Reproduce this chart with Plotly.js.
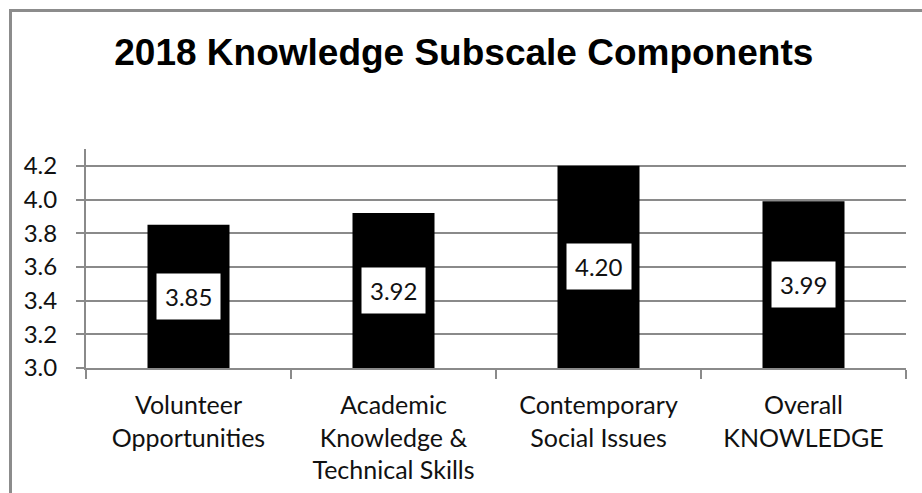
<!DOCTYPE html>
<html>
<head>
<meta charset="utf-8">
<script src="https://cdn.plot.ly/plotly-3.0.1.min.js"></script>
<style>
  html, body { margin: 0; padding: 0; background: #fff; }
  #wrap { position: relative; width: 922px; height: 493px; overflow: hidden; }
  #chart { width: 922px; height: 493px; }
  #frame { position: absolute; left: 9px; top: 9px; width: 960px; height: 520px;
           border-top: 3px solid #8c8c8c; border-left: 3px solid #8c8c8c; pointer-events: none; }
</style>
</head>
<body>
<div id="wrap">
  <div id="chart"></div>
  <div id="frame"></div>
</div>
<script>
const categories = [
  "Volunteer<br>Opportunities",
  "Academic<br>Knowledge &amp;<br>Technical Skills",
  "Contemporary<br>Social Issues",
  "Overall<br>KNOWLEDGE"
];
const values = [3.85, 3.92, 4.20, 3.99];
const yTickVals = [3.0, 3.2, 3.4, 3.6, 3.8, 4.0, 4.2];
const yMin = 3.0, yMax = 4.3;

const labelFont = "Lato, 'Open Sans', sans-serif";
const gray = "#8a8a8a";

const trace = {
  type: "bar",
  x: categories,
  y: values.map(v => v - yMin),
  base: yMin,
  width: 0.4,
  marker: { color: "#000000", line: { width: 0 } },
  hoverinfo: "skip"
};

const annotations = categories.map((c, i) => ({
  x: c,
  y: (yMin + values[i]) / 2,
  xref: "x", yref: "y",
  text: values[i].toFixed(2),
  showarrow: false,
  bgcolor: "#ffffff",
  borderpad: 8,
  font: { family: labelFont, size: 24, color: "#111111" }
}));

const layout = {
  width: 922, height: 493,
  margin: { l: 86, r: 16, t: 149, b: 125 },
  paper_bgcolor: "#ffffff",
  plot_bgcolor: "#ffffff",
  showlegend: false,
  title: {
    text: "<b>2018 Knowledge Subscale Components</b>",
    font: { family: "'Liberation Sans', Arial, sans-serif", size: 37, color: "#000000" },
    x: 0.503, xanchor: "center",
    y: 1 - 52 / 493, yanchor: "middle", yref: "container"
  },
  xaxis: {
    type: "category",
    showline: true, linecolor: gray, linewidth: 2,
    ticks: "outside", tickson: "boundaries", ticklen: 9, tickwidth: 2, tickcolor: gray,
    ticklabelstandoff: 14,
    showgrid: false,
    tickfont: { family: labelFont, size: 25, color: "#111111" },
    fixedrange: true
  },
  yaxis: {
    range: [yMin, yMax],
    tickvals: yTickVals,
    ticktext: yTickVals.map(v => v.toFixed(1)),
    showline: true, linecolor: gray, linewidth: 2,
    ticks: "outside", ticklen: 8, tickwidth: 2, tickcolor: gray,
    ticklabelstandoff: 14,
    showgrid: true, gridcolor: gray, gridwidth: 2,
    zeroline: false,
    tickfont: { family: labelFont, size: 24, color: "#111111" },
    fixedrange: true
  },
  annotations: annotations
};

Plotly.newPlot("chart", [trace], layout, { displayModeBar: false, staticPlot: true });
</script>
</body>
</html>
